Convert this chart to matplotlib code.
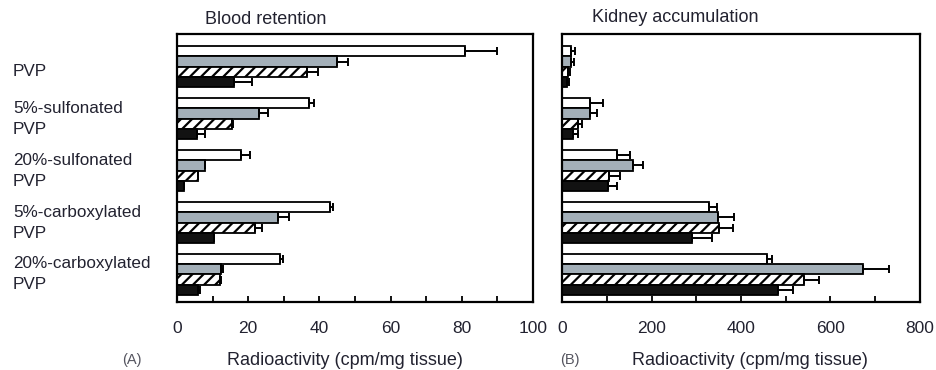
import numpy as np
import matplotlib
matplotlib.use('Agg')
import matplotlib.pyplot as plt
from matplotlib.transforms import blended_transform_factory

plt.rcParams['font.family'] = ['Liberation Sans', 'DejaVu Sans']
plt.rcParams['hatch.linewidth'] = 1.6

groups = ['PVP', '5%-sulfonated\nPVP', '20%-sulfonated\nPVP',
          '5%-carboxylated\nPVP', '20%-carboxylated\nPVP']

# blood retention (cpm/mg tissue), four bars per group, top to bottom
blood_white = [81, 37, 18, 43, 29]
blood_white_err = [9, 1.5, 2.5, 0.8, 0.8]
blood_grey = [45, 23, 8, 28.5, 12.5]
blood_grey_err = [3, 2.5, 0, 3, 0.5]
blood_hatch = [36.5, 15.5, 6, 22, 12]
blood_hatch_err = [3, 0.3, 0, 2, 0.3]
blood_black = [16, 5.5, 2, 10.5, 6]
blood_black_err = [5, 2.3, 0, 0, 0.5]

# kidney accumulation (cpm/mg tissue)
kidney_white = [21, 63, 123, 328, 458]
kidney_white_err = [7, 29, 29, 18, 11]
kidney_grey = [19, 63, 158, 349, 673]
kidney_grey_err = [7, 15, 23, 35, 58]
kidney_hatch = [13, 36, 105, 351, 541]
kidney_hatch_err = [4, 8, 24, 31, 33]
kidney_black = [11, 25, 102, 291, 483]
kidney_black_err = [4, 10, 21, 44, 33]

text_color = '#222230'
styles = [dict(color='white', hatch=None),
          dict(color='#a3afb8', hatch=None),
          dict(color='white', hatch='///'),
          dict(color='#121212', hatch=None)]


def draw_panel(ax, series, errs, xmax, major, minor, label_x):
    y = np.arange(len(groups))
    h = 0.2
    for k, (vals, err, st) in enumerate(zip(series, errs, styles)):
        pos = y + (k - 1.5) * h
        ax.barh(pos, vals, height=h, color=st['color'], hatch=st['hatch'],
                edgecolor='black', linewidth=1.3)
        ax.errorbar(vals, pos, xerr=[np.zeros(len(vals)), err], fmt='none',
                    ecolor='black', elinewidth=1.4, capsize=3, capthick=1.4)
    ax.set_xlim(0, xmax)
    ax.set_ylim(len(groups) - 1 + 0.53, -0.63)
    ax.set_yticks([])
    ax.set_xticks(np.arange(0, xmax + 1, major))
    ax.set_xticks(np.arange(0, xmax + 1, minor), minor=True)
    ax.tick_params(axis='x', which='both', direction='in', length=4, width=1.3,
                   labelsize=12.5, pad=14, colors='black', labelcolor=text_color)
    for s in ax.spines.values():
        s.set_linewidth(1.6)
    ax.set_xlabel('Radioactivity (cpm/mg tissue)', fontsize=13,
                  color=text_color)
    ax.xaxis.set_label_coords(label_x, -0.185)


fig = plt.figure(figsize=(9.37, 3.70), dpi=100)
ax1 = fig.add_axes([177 / 937, 68 / 370, 356 / 937, 268 / 370])
ax2 = fig.add_axes([562 / 937, 68 / 370, 358 / 937, 268 / 370])

draw_panel(ax1, [blood_white, blood_grey, blood_hatch, blood_black],
           [blood_white_err, blood_grey_err, blood_hatch_err, blood_black_err],
           100, 20, 10, 0.472)
draw_panel(ax2, [kidney_white, kidney_grey, kidney_hatch, kidney_black],
           [kidney_white_err, kidney_grey_err, kidney_hatch_err, kidney_black_err],
           800, 200, 100, 0.525)

# group labels on the far left
tr = blended_transform_factory(fig.transFigure, ax1.transData)
for i, lab in enumerate(groups):
    off = 0.1 if '\n' not in lab else 0.0
    ax1.text(13 / 937, i + off, lab, transform=tr, ha='left', va='center',
             fontsize=12.3, color=text_color, linespacing=1.5)

fig.text(205 / 937, 1 - 19 / 370, 'Blood retention', fontsize=13,
         color=text_color, ha='left', va='center')
fig.text(592 / 937, 1 - 17 / 370, 'Kidney accumulation', fontsize=13,
         color=text_color, ha='left', va='center')
fig.text(122 / 937, 1 - 360 / 370, '(A)', fontsize=10.5, color='#555560',
         ha='left', va='center')
fig.text(560 / 937, 1 - 360 / 370, '(B)', fontsize=10.5, color='#555560',
         ha='left', va='center')

fig.savefig('out.png', dpi=100)
